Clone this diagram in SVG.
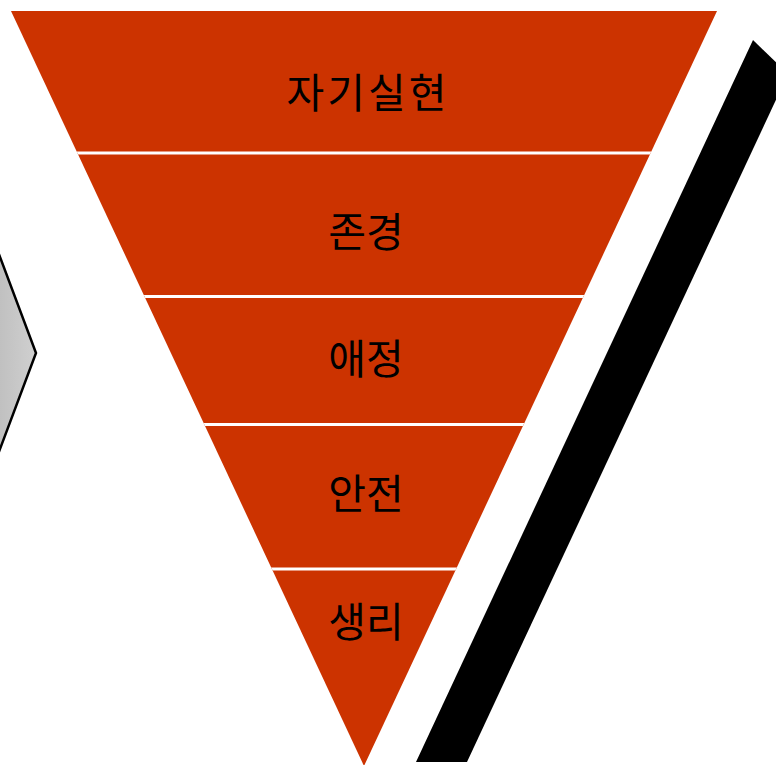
<svg xmlns="http://www.w3.org/2000/svg" width="776" height="765" viewBox="0 0 776 765">
<defs>
<style>
.lbl{font-family:"Noto Sans CJK KR","Noto Sans",sans-serif;font-size:41px;fill:#000;text-anchor:middle}
.sep{stroke:#fff;stroke-width:3}
</style>
<linearGradient id="g" x1="0" y1="0" x2="1" y2="0">
<stop offset="0" stop-color="#bcbcbc"/>
<stop offset="1" stop-color="#d0d0d0"/>
</linearGradient>
<clipPath id="tri"><polygon points="11,11 717,11 364,766"/></clipPath>
</defs>
<rect width="776" height="765" fill="#fff"/>
<g id="arrow">
<polygon points="-10,230.3 36,353 -10,475.7" fill="url(#g)" stroke="#000" stroke-width="2.5"/>
</g>
<g id="bar">
<polygon points="753,40 788,74 467,762 416,762" fill="#000"/>
</g>
<g id="pyramid">
<polygon points="11,11 717,11 364,766" fill="#cc3300"/>
<g clip-path="url(#tri)">
<line class="sep" x1="0" y1="153" x2="776" y2="153"/>
<line class="sep" x1="0" y1="296.5" x2="776" y2="296.5"/>
<line class="sep" x1="0" y1="424.5" x2="776" y2="424.5"/>
<line class="sep" x1="0" y1="569" x2="776" y2="569"/>
</g>
</g>
<g id="level1"><text class="lbl" x="368" y="108" letter-spacing="3">자기실현</text></g>
<g id="level2"><text class="lbl" x="366" y="247">존경</text></g>
<g id="level3"><text class="lbl" x="366" y="374">애정</text></g>
<g id="level4"><text class="lbl" x="366" y="509">안전</text></g>
<g id="level5"><text class="lbl" x="366" y="637">생리</text></g>
</svg>
